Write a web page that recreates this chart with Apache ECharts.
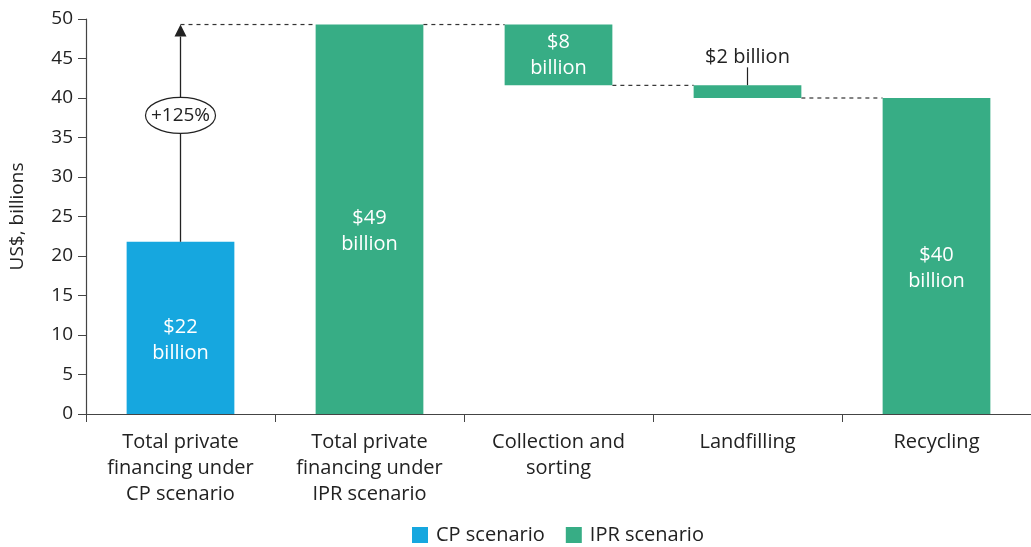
<!DOCTYPE html>
<html>
<head>
<meta charset="utf-8">
<script src="https://cdn.jsdelivr.net/npm/echarts@6/dist/echarts.min.js"></script>
<style>
  html, body { margin: 0; padding: 0; background: #fff; }
  #chart { width: 1031px; height: 547px; }
</style>
</head>
<body>
<div id="chart"></div>
<script>
// chart data
const categories = ['Total private\nfinancing under\nCP scenario', 'Total private\nfinancing under\nIPR scenario', 'Collection and\nsorting', 'Landfilling', 'Recycling']
const baseValues = [0, 0, 41.6, 40.0, 0]
const cpValues = [21.8, null, null, null, null]
const iprValues = [null, 49.3, 7.7, 1.6, 40.0]
const barLabels = ['$22\nbillion', '$49\nbillion', '$8\nbillion', '$2 billion', '$40\nbillion']
// connectors: [from category, to category, value]
const connectors = [[0, 1, 49.3], [1, 2, 49.3], [2, 3, 41.6], [3, 4, 40.0]]
// growth arrow: [category, from, to, label value position]
const arrowData = [[0, 21.8, 49.3, 37.8]]
const arrowText = '+125%'
const yMin = 0, yMax = 50, yStep = 5

const FONT = 'Open Sans'
const FS = 20
const TEXT = '#222'
const BLUE = '#16a7df'
const GREEN = '#37ad85'
const BAR_RATIO = 0.57

let chart = echarts.init(document.getElementById('chart'))

function halfBar(api) {
  return api.size([1, 0])[0] * BAR_RATIO / 2
}

let option = {
  animation: false,
  textStyle: { fontFamily: FONT },
  grid: { left: 86, right: 0, top: 19, bottom: 133 },
  legend: {
    bottom: -3,
    left: 407,
    icon: 'rect',
    itemWidth: 16,
    itemHeight: 16,
    itemGap: 21,
    textStyle: { fontSize: FS, color: TEXT, fontFamily: FONT, padding: [0, 0, 0, 3] },
    data: ['CP scenario', 'IPR scenario']
  },
  xAxis: {
    type: 'category',
    data: categories,
    axisLine: { lineStyle: { color: '#444', width: 1.2 } },
    axisTick: { show: true, length: 8, lineStyle: { color: '#444' } },
    axisLabel: { color: TEXT, fontSize: FS, lineHeight: 26, margin: 15, interval: 0 }
  },
  yAxis: {
    type: 'value',
    min: yMin,
    max: yMax,
    interval: yStep,
    name: 'US$, billions',
    nameLocation: 'middle',
    nameGap: 59,
    nameTextStyle: { fontSize: 19, color: TEXT },
    axisLine: { show: true, lineStyle: { color: '#444', width: 1.2 } },
    axisTick: { show: true, length: 8, lineStyle: { color: '#444' } },
    axisLabel: { color: TEXT, fontSize: 19, margin: 13 },
    splitLine: { show: false }
  },
  series: [
    {
      name: 'base',
      type: 'bar',
      stack: 'w',
      barWidth: (BAR_RATIO * 100) + '%',
      itemStyle: { color: 'transparent' },
      data: baseValues,
      silent: true
    },
    {
      name: 'CP scenario',
      type: 'bar',
      stack: 'w',
      itemStyle: { color: BLUE },
      label: {
        show: true,
        position: 'inside',
        offset: [0, 12],
        color: '#fff',
        fontSize: FS,
        lineHeight: 26,
        formatter: p => barLabels[p.dataIndex]
      },
      data: cpValues
    },
    {
      name: 'IPR scenario',
      type: 'bar',
      stack: 'w',
      itemStyle: { color: GREEN },
      data: iprValues.map((v, i) => {
        if (v == null) return null
        let lab = { show: true, position: 'inside', offset: [0, 12], color: '#fff', fontSize: FS, lineHeight: 26 }
        if (i === 2) lab.offset = [0, 0]
        if (i === 3) lab = { show: true, position: 'top', distance: 18, color: TEXT, fontSize: FS }
        return { value: v, label: Object.assign(lab, { formatter: barLabels[i] }) }
      })
    },
    {
      name: 'connectors',
      type: 'custom',
      silent: true,
      z: 1,
      data: connectors,
      renderItem: (params, api) => {
        let from = api.value(0), to = api.value(1), v = api.value(2)
        let hb = halfBar(api)
        let p1 = api.coord([from, v])
        let p2 = api.coord([to, v])
        let x1 = from === 0 ? p1[0] : p1[0] + hb
        return {
          type: 'line',
          shape: { x1: x1, y1: p1[1], x2: p2[0] - hb, y2: p2[1] },
          style: { stroke: '#333', lineWidth: 1.2, lineDash: [4, 4] }
        }
      }
    },
    {
      name: 'callout',
      type: 'custom',
      silent: true,
      data: [[3, baseValues[3] + iprValues[3]]],
      renderItem: (params, api) => {
        let p = api.coord([api.value(0), api.value(1)])
        return {
          type: 'line',
          shape: { x1: p[0], y1: p[1], x2: p[0], y2: p[1] - 18 },
          style: { stroke: '#222', lineWidth: 1.2 }
        }
      }
    },
    {
      name: 'arrow',
      type: 'custom',
      silent: true,
      z: 5,
      data: arrowData,
      renderItem: (params, api) => {
        let base = api.coord([api.value(0), api.value(1)])
        let tip = api.coord([api.value(0), api.value(2)])
        let mid = api.coord([api.value(0), api.value(3)])
        let x = base[0], head = 12
        return {
          type: 'group',
          children: [
            { type: 'line', shape: { x1: x, y1: base[1], x2: x, y2: tip[1] + head }, style: { stroke: '#222', lineWidth: 1.3 } },
            { type: 'polygon', shape: { points: [[x, tip[1]], [x - 6, tip[1] + head], [x + 6, tip[1] + head]] }, style: { fill: '#222' } },
            { type: 'ellipse', shape: { cx: x, cy: mid[1], rx: 35, ry: 18 }, style: { fill: '#fff', stroke: '#222', lineWidth: 1.2 } },
            { type: 'text', x: x, y: mid[1], style: { text: arrowText, fill: TEXT, font: '19px ' + FONT, align: 'center', verticalAlign: 'middle' } }
          ]
        }
      }
    }
  ]
}

chart.setOption(option)
</script>
</body>
</html>
